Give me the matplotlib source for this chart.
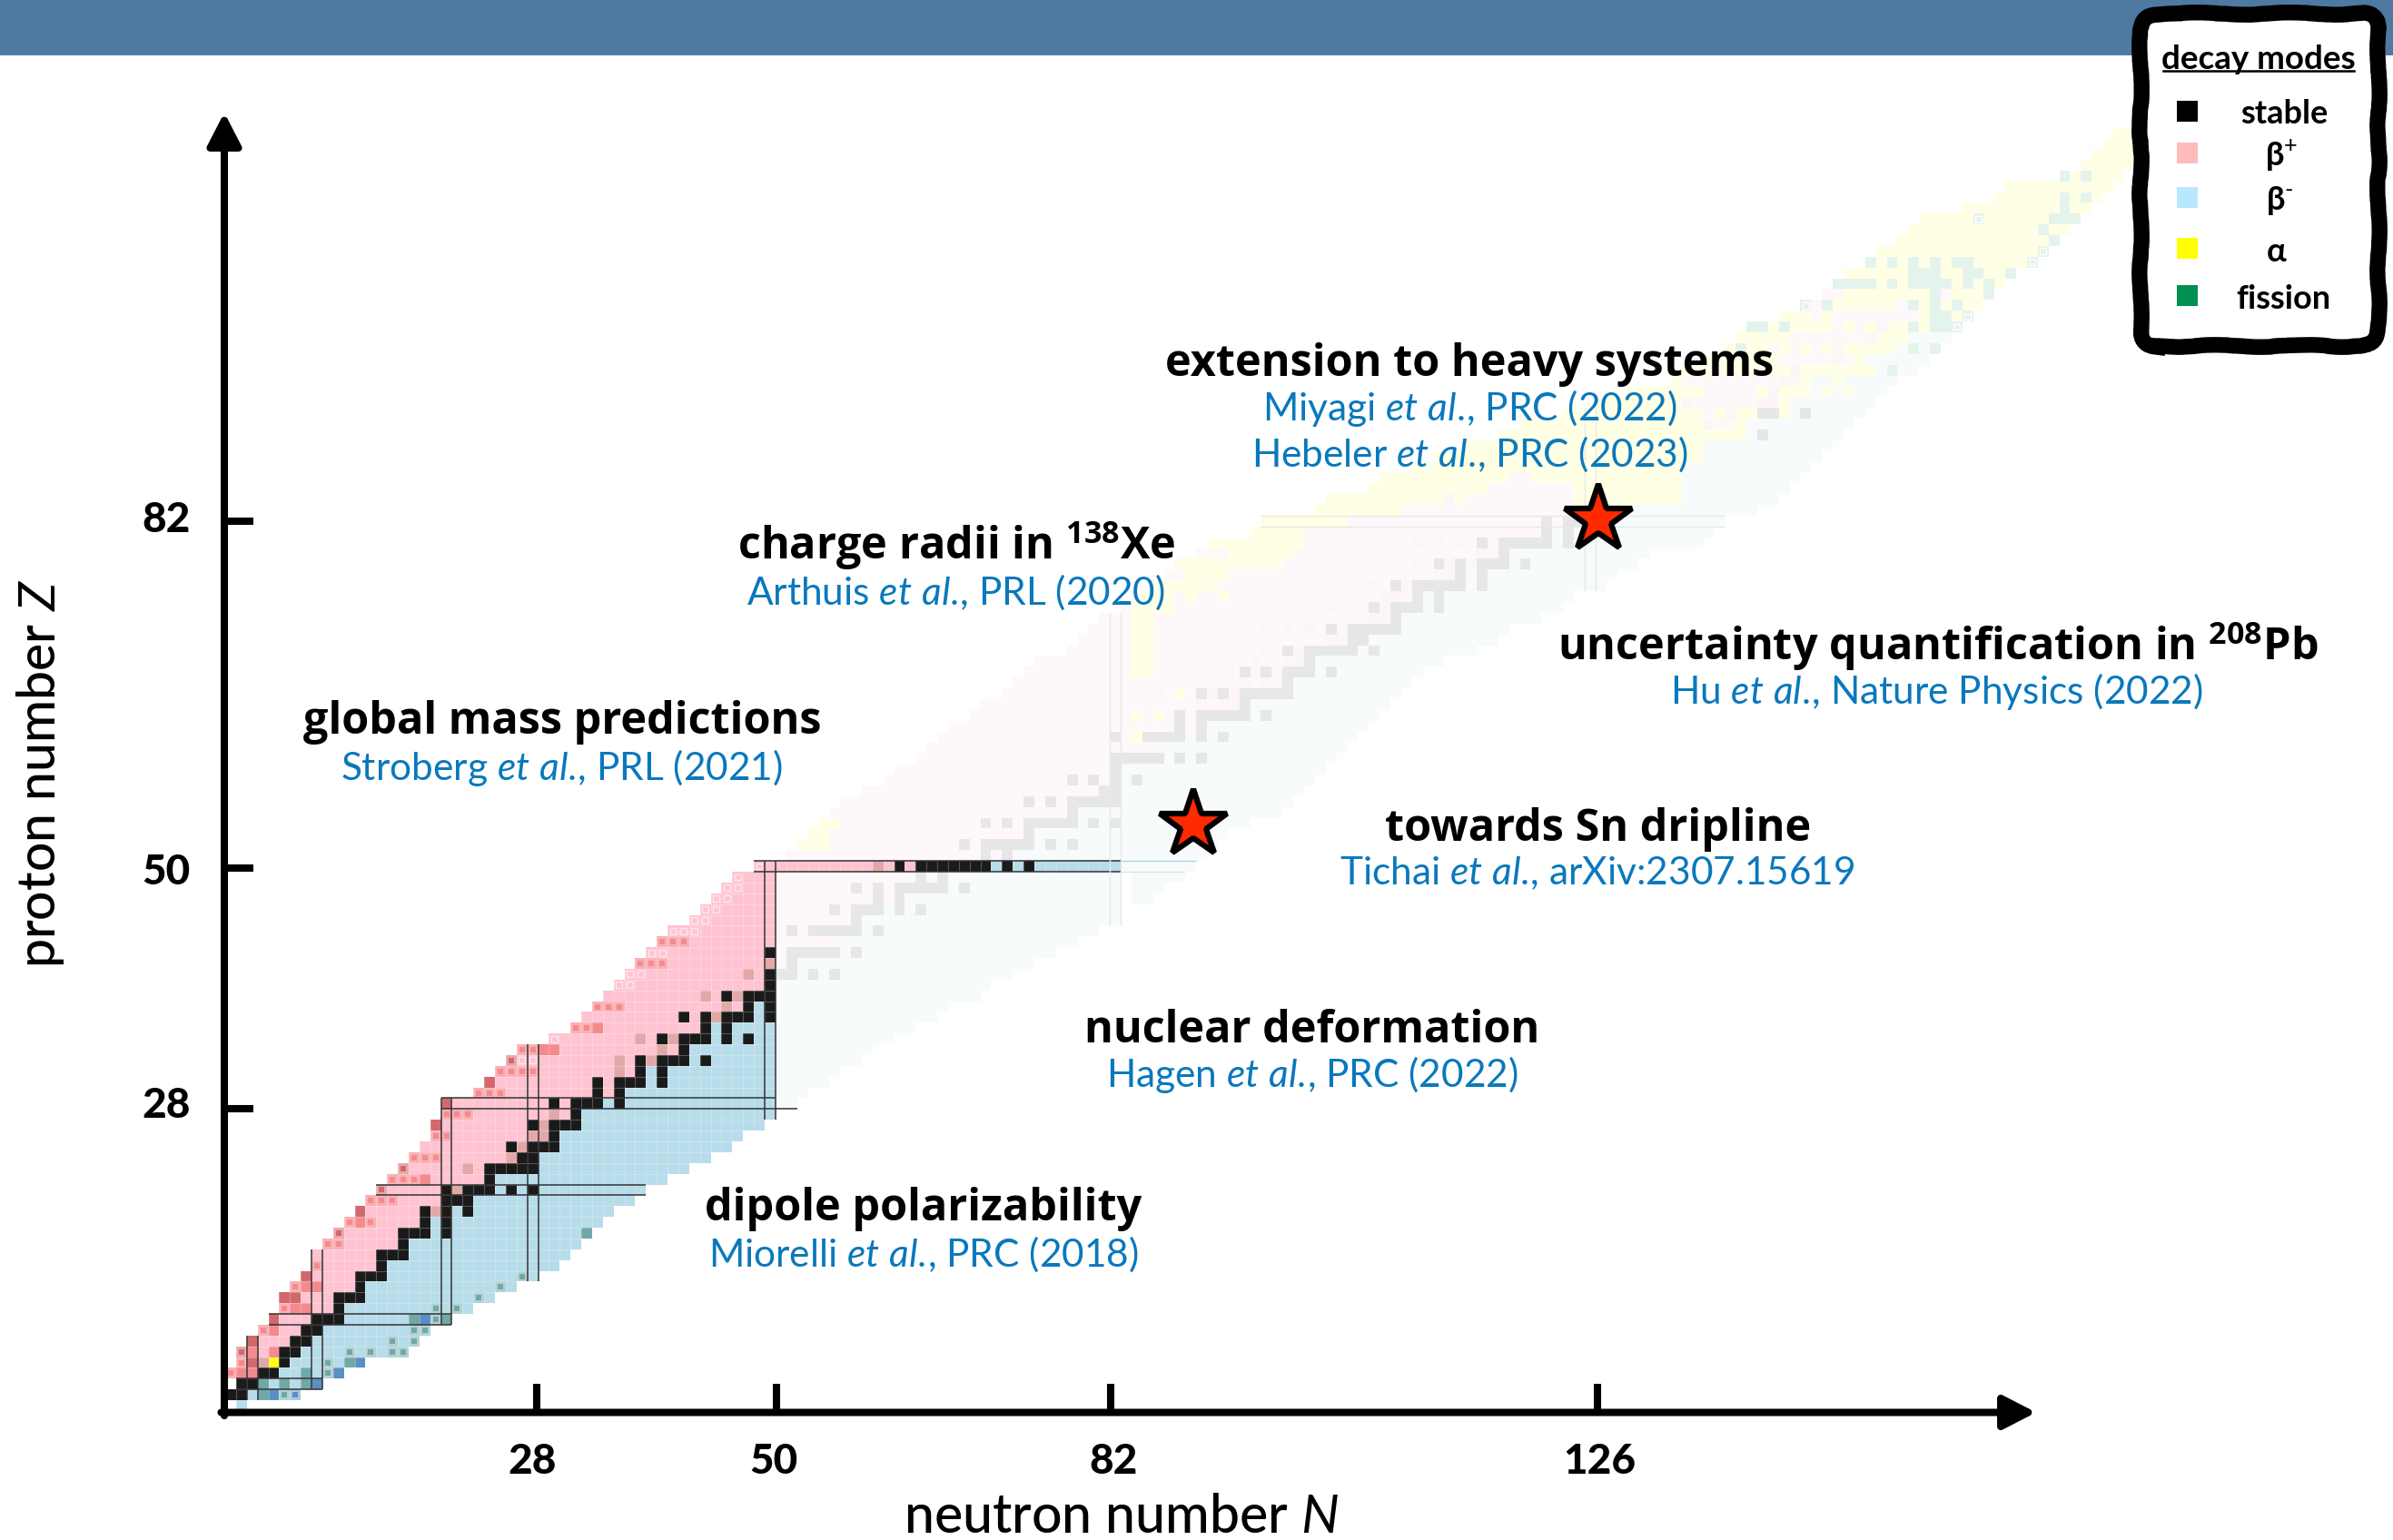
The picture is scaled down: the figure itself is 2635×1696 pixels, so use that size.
import numpy as np
import matplotlib
matplotlib.use('Agg')
import matplotlib.pyplot as plt
from matplotlib.colors import ListedColormap
from matplotlib.patches import FancyBboxPatch, Rectangle

plt.rcParams['font.family'] = ['Lato', 'Noto Sans', 'DejaVu Sans']
plt.rcParams['mathtext.fontset'] = 'custom'
plt.rcParams['mathtext.rm'] = 'Lato'
plt.rcParams['mathtext.it'] = 'Lato:italic'
plt.rcParams['mathtext.bf'] = 'Open Sans:bold'

# first and last neutron number of every row, index = proton number
n_min = [1, 0, 1, 0, 1, 1, 2, 3, 4, 5, 5, 6, 7, 8, 8, 9, 10, 11, 12, 13,
         14, 15, 16, 17, 18, 19, 19, 20, 20, 23, 24, 25, 26, 27, 30, 32, 33, 34, 35, 36,
         37, 38, 39, 40, 41, 43, 44, 45, 46, 47, 49, 52, 53, 54, 55, 56, 57, 59, 61, 62,
         64, 65, 66, 67, 69, 70, 72, 73, 74, 75, 78, 79, 80, 81, 83, 84, 86, 87, 88, 90,
         91, 95, 96, 101, 102, 106, 107, 110, 112, 115, 118, 120, 124, 127, 130, 134, 135, 137, 139, 140,
         141, 144, 146, 148, 149, 150, 152, 153, 155, 156, 157, 161, 164, 165, 170, 172, 173, 174, 175]
n_max = [1, 6, 8, 10, 12, 16, 17, 18, 20, 22, 24, 26, 28, 30, 31, 32, 33, 34, 35, 37,
         38, 40, 42, 44, 46, 47, 49, 50, 52, 53, 55, 56, 58, 59, 61, 63, 65, 66, 69, 70,
         72, 74, 76, 78, 80, 82, 82, 85, 86, 88, 89, 90, 91, 92, 94, 97, 98, 99, 100, 101,
         102, 103, 104, 105, 106, 107, 108, 109, 110, 112, 115, 117, 118, 121, 123, 124, 127, 128, 130, 131,
         136, 137, 138, 141, 143, 144, 145, 146, 147, 148, 149, 150, 151, 152, 153, 154, 156, 157, 158, 159,
         160, 161, 162, 163, 164, 165, 167, 168, 169, 170, 171, 172, 173, 174, 175, 176, 177, 178, 179]
# first beta- neutron number of every row (up to Z=99)
blue_start = [1, 2, 3, 5, 6, 7, 8, 9, 11, 11, 13, 13, 15, 15, 17, 17, 19, 19, 19, 23,
              25, 25, 29, 29, 31, 31, 33, 33, 35, 37, 39, 39, 43, 43, 45, 45, 49, 49, 51, 51,
              53, 53, 57, 57, 59, 59, 61, 63, 67, 67, 71, 73, 75, 75, 79, 79, 83, 83, 83, 83,
              87, 87, 89, 91, 95, 95, 99, 99, 101, 101, 105, 106, 109, 109, 111, 111, 115, 115, 119, 119,
              123, 123, 127, 128, 135, 135, 135, 135, 137, 137, 141, 141, 145, 145, 147, 147, 153, 152, 155, 156]

stable = {1: [0, 1], 2: [1, 2], 3: [3, 4], 4: [5], 5: [5, 6], 6: [6, 7], 7: [7, 8], 8: [8, 9, 10], 9: [10],
          10: [10, 11, 12], 11: [12], 12: [12, 13, 14], 13: [14], 14: [14, 15, 16], 15: [16],
          16: [16, 17, 18, 20], 17: [18, 20], 18: [18, 20, 22], 19: [20, 21, 22],
          20: [20, 22, 23, 24, 26, 28], 21: [24], 22: [24, 25, 26, 27, 28], 23: [27, 28],
          24: [26, 28, 29, 30], 25: [30], 26: [28, 30, 31, 32], 27: [32], 28: [30, 32, 33, 34, 36],
          29: [34, 36], 30: [34, 36, 37, 38, 40], 31: [38, 40], 32: [38, 40, 41, 42, 44], 33: [42],
          34: [40, 42, 43, 44, 46, 48], 35: [44, 46], 36: [42, 44, 46, 47, 48, 50], 37: [48, 50],
          38: [46, 48, 49, 50], 39: [50], 40: [50, 51, 52, 54, 56], 41: [52],
          42: [50, 52, 53, 54, 55, 56, 58], 44: [52, 54, 55, 56, 57, 58, 60], 45: [58],
          46: [56, 58, 59, 60, 62, 64], 47: [60, 62], 48: [58, 60, 62, 63, 64, 65, 66, 68], 49: [64, 66],
          50: [62, 64, 65, 66, 67, 68, 69, 70, 72, 74], 51: [70, 72], 52: [68, 70, 71, 72, 73, 74, 76, 78],
          53: [74], 54: [70, 72, 74, 75, 76, 77, 78, 80, 82], 55: [78], 56: [74, 76, 78, 79, 80, 81, 82],
          57: [81, 82], 58: [78, 80, 82, 84], 59: [82], 60: [82, 83, 84, 85, 86, 88, 90],
          62: [82, 85, 86, 87, 88, 90, 92], 63: [88, 90], 64: [88, 90, 91, 92, 93, 94, 96], 65: [94],
          66: [90, 92, 94, 95, 96, 97, 98], 67: [98], 68: [94, 96, 98, 99, 100, 102], 69: [100],
          70: [98, 100, 101, 102, 103, 104, 106], 71: [104, 105], 72: [102, 104, 105, 106, 107, 108],
          73: [108], 74: [106, 108, 109, 110, 112], 75: [110, 112], 76: [108, 110, 111, 112, 113, 114, 116],
          77: [114, 116], 78: [112, 114, 116, 117, 118, 120], 79: [118], 80: [116, 118, 119, 120, 121, 122, 124],
          81: [122, 124], 82: [122, 124, 125, 126], 83: [126], 90: [142], 92: [142, 143, 146]}

long_lived = {4: [3], 18: [19], 20: [21], 22: [22], 23: [26], 24: [27], 25: [28, 29], 26: [29], 27: [30],
              31: [36], 32: [36, 39], 33: [40], 34: [38, 41], 36: [45], 37: [46], 38: [44, 47], 40: [48],
              41: [50], 50: [60], 65: [90, 92, 93], 66: [86, 91, 93], 67: [94, 96, 97], 68: [90, 92, 95, 97],
              69: [95, 98, 99], 70: [94, 96, 99], 71: [102, 103], 72: [96, 98, 100, 103], 73: [106, 107],
              74: [102, 104, 107], 75: [107, 108], 76: [106, 109], 77: [112, 113], 78: [110, 113, 115],
              79: [116, 117], 80: [110, 112, 114, 117], 84: [113], 91: [137], 92: [139], 93: [135, 142, 143],
              94: [143], 95: [144], 96: [145], 97: [149], 98: [149], 99: [152], 100: [153]}

salmon = {3: [1, 2], 5: [2, 4], 7: [4], 9: [6, 7], 11: [7, 8], 17: [12], 21: [18], 33: [29, 30], 35: [34]}
salmon_box = {3: [0], 4: [1], 7: [3], 9: [5], 11: [6], 13: [8], 15: [9, 10], 17: [11, 13], 19: [13, 14, 15],
              21: [15, 16, 17], 23: [17, 18, 19], 25: [19, 20], 27: [20, 21, 22], 29: [23, 24, 25],
              31: [25, 26, 27, 28], 33: [27, 28], 35: [32, 33], 37: [34, 35, 36], 41: [38, 39, 40], 43: [40, 41, 42]}
red = {4: [2], 6: [2], 8: [4], 10: [5, 6], 12: [7], 18: [12], 26: [19], 28: [20], 30: [24]}
red_box = {5: [1], 16: [10], 20: [14], 22: [16], 32: [26]}
pale_box = {32: [27, 28], 34: [30], 39: [36, 37], 40: [37, 38], 42: [39, 40], 44: [41, 42, 43], 45: [43, 44],
            46: [44, 45], 47: [45, 46], 48: [46, 47], 49: [47], 50: [49]}
teal = {1: [3], 2: [3, 5, 7], 3: [7], 4: [11], 8: [17, 20], 16: [33]}
teal_box = {1: [5], 3: [9], 4: [9], 5: [11, 13, 15, 16], 6: [15, 17], 7: [17, 18], 8: [19], 9: [19, 21],
            10: [23], 11: [25], 12: [27]}
dark_blue = {1: [4], 2: [8], 3: [10], 4: [12], 8: [18]}
dark_blue_box = {1: [6]}

# alpha decay stretches, inclusive
alpha_spans = {4: [(4, 4)], 52: [(53, 55)], 53: [(54, 55)], 54: [(55, 56)], 62: [(84, 84)], 64: [(84, 84), (86, 86)],
               66: [(88, 88)], 68: [(84, 85)], 69: [(84, 85)], 70: [(84, 85)], 71: [(84, 85)], 72: [(84, 85)],
               73: [(84, 85)], 74: [(84, 87)], 75: [(85, 87), (89, 89), (92, 92)], 76: [(86, 91)], 77: [(89, 92)],
               78: [(88, 97)], 79: [(93, 98)], 80: [(91, 99)], 81: [(95, 99)], 82: [(96, 103)], 83: [(101, 108)],
               84: [(102, 112), (114, 114), (125, 134)], 85: [(106, 116), (125, 134)], 86: [(107, 118), (121, 134)],
               87: [(110, 134)], 88: [(112, 136)], 89: [(115, 136)], 90: [(118, 140)], 91: [(120, 136), (140, 140)],
               92: [(124, 136), (138, 138), (140, 141), (144, 144)], 93: [(127, 134), (144, 144)],
               94: [(130, 136), (142, 142), (144, 146), (148, 148), (150, 150)], 95: [(134, 134), (146, 146), (149, 149)],
               96: [(135, 144), (146, 152)], 97: [(137, 143), (151, 151)],
               98: [(139, 142), (144, 144), (146, 146), (148, 148), (150, 154)], 99: [(140, 144), (153, 155)],
               100: [(143, 143), (145, 148), (150, 150), (152, 152), (154, 155), (157, 157)],
               101: [(144, 146), (148, 148), (157, 157), (160, 160)]}
alpha_from_z = 102
pink_over = {102: [147, 155], 103: [148, 149, 159]}
fission = {98: [140, 156, 158], 96: [154], 100: [141, 142, 144, 156, 158, 159, 160], 101: [158, 159, 161],
           102: [146, 148, 156, 158, 160], 103: [158, 163],
           104: [149, 150, 151, 152, 154, 156, 157, 158, 159, 161, 163], 105: [156, 157, 158, 161, 162, 165],
           106: [152, 154, 156, 158, 160, 161, 167], 107: [168], 108: [169], 109: [168],
           110: [162, 169, 170, 171], 111: [170], 112: [170, 172], 114: [170, 172]}
fission_box = {100: [160], 101: [161], 102: [146], 106: [167], 107: [168], 110: [162]}
gaps = {47: [83], 48: [83], 49: [83]}

x_ticks = [28.9, 51.1, 82.1, 127.2]
x_tick_labels = ['28', '50', '82', '126']
y_ticks = [28.0, 50.3, 82.5]
y_tick_labels = ['28', '50', '82']

# magic number bands: number, first and last row/column
v_lines = [(2, 1, 7), (8, 2, 15), (20, 8, 29), (28, 12, 34), (50, 27, 51)]
h_lines = [(2, 1, 9), (8, 4, 21), (20, 14, 39), (50, 49, 83)]
v_lines_faint = [(82, 45, 74), (126, 76, 93)]
h_lines_faint = [(82, 96, 139)]

studies = [('extension to heavy systems', 401, 1618),
           ('uncertainty quantification in $^{\\mathbf{208}}$Pb', 712, 2134),
           ('charge radii in $^{\\mathbf{138}}$Xe', 601, 1053),
           ('global mass predictions', 795, 619),
           ('towards Sn dripline', 913, 1760),
           ('nuclear deformation', 1135, 1445),
           ('dipole polarizability', 1331, 1017)]
etal = '$\\mathit{et\\ al.}\\!\\mathrm{,}$'
refs = [('Miyagi ' + etal + ' PRC (2022)', 450, 1618),
        ('Hebeler ' + etal + ' PRC (2023)', 500, 1618),
        ('Hu ' + etal + ' Nature Physics (2022)', 762, 2132),
        ('Arthuis ' + etal + ' PRL (2020)', 652, 1052),
        ('Stroberg ' + etal + ' PRL (2021)', 845, 618),
        ('Tichai ' + etal + ' arXiv:2307.15619', 962, 1759),
        ('Hagen ' + etal + ' PRC (2022)', 1184, 1445),
        ('Miorelli ' + etal + ' PRC (2018)', 1381, 1017)]

legend_labels = ['stable', 'β$^{+}$', 'β$^{\\text{-}}$', 'α', 'fission']
legend_colors = ['#000000', '#ffbbbb', '#b8e8ff', '#ffff00', '#009050']

W, H = 2635, 1696
PITCH = 11.88
X0, Y0 = 248, 1554

fig = plt.figure(figsize=(W / 100, H / 100), dpi=100, facecolor='white')
ax = fig.add_axes([0, 0, 1, 1])
ax.set_xlim(-X0 / PITCH, (W - X0) / PITCH)
ax.set_ylim((Y0 - H) / PITCH, Y0 / PITCH)
ax.axis('off')


def place(cells, grid, code):
    for z, ns in cells.items():
        for n in ns:
            grid[z, n] = code


# build cell categories
NX, NY = 181, 119
grid = np.zeros((NY, NX), dtype=int)
for z in range(NY):
    top = blue_start[z] if z < len(blue_start) else n_max[z] + 1
    for n in range(n_min[z], n_max[z] + 1):
        grid[z, n] = 2 if n >= top else 1
    if z >= alpha_from_z:
        grid[z, n_min[z]:n_max[z] + 1] = 5
for z, spans in alpha_spans.items():
    for a, b in spans:
        grid[z, a:b + 1] = 5
place(pink_over, grid, 1)
place(gaps, grid, 0)
place(stable, grid, 3)
place(long_lived, grid, 4)
place(fission, grid, 6)
place(salmon, grid, 7)
place(red, grid, 8)
place(teal, grid, 9)
place(dark_blue, grid, 10)
place(salmon_box, grid, 11)
place(red_box, grid, 12)
place(teal_box, grid, 13)
place(dark_blue_box, grid, 14)

cmap = ListedColormap(['#ffffff', '#ffc3d1', '#b7dcea', '#1a1a1a', '#e2a8a8', '#ffff10', '#009050',
                       '#f48a8e', '#d2686c', '#70a8a8', '#5a8fc4',
                       '#f9b0b4', '#e8a8ac', '#b2d2d2', '#a8c8e2'])

bright = np.zeros_like(grid, dtype=bool)
bright[:51, :51] = True
bright[50, :83] = True
xe = np.arange(NX + 1)
ye = np.arange(NY + 1)
faded_c = np.ma.masked_where(bright | (grid == 0), grid)
bright_c = np.ma.masked_where(~bright | (grid == 0), grid)
ax.pcolormesh(xe, ye, faded_c, cmap=cmap, vmin=-0.5, vmax=14.5, alpha=0.1, edgecolors='none', zorder=1)
ax.pcolormesh(xe, ye, bright_c, cmap=cmap, vmin=-0.5, vmax=14.5, edgecolors='none', zorder=2)

# pale grid lines on the bright part
for z in range(0, 51):
    ok = np.where(bright_c[z].mask == False)[0]
    if len(ok):
        ax.hlines(z, ok.min(), ok.max() + 1, color='white', alpha=0.25, lw=0.8, zorder=3)
for n in range(0, 83):
    ok = np.where(bright_c[:, n].mask == False)[0]
    if len(ok):
        ax.vlines(n, ok.min(), ok.max() + 1, color='white', alpha=0.25, lw=0.8, zorder=3)


def inner_squares(cells, color, size=20, alpha=1.0, face=True):
    xs = [n + 0.5 for z, ns in cells.items() for n in ns]
    ys = [z + 0.5 for z, ns in cells.items() for n in ns]
    if face:
        ax.scatter(xs, ys, s=size, marker='s', color=color, lw=0, alpha=alpha, zorder=4)
    else:
        ax.scatter(xs, ys, s=size, marker='s', facecolor='none', edgecolor=color, lw=1.0, alpha=alpha, zorder=4)


inner_squares(salmon_box, '#f48a8e')
inner_squares(red_box, '#d2686c')
inner_squares(teal_box, '#70a8a8')
inner_squares(dark_blue_box, '#5a8fc4')
inner_squares(pale_box, '#ffe8ee', size=24, face=False)
inner_squares(fission_box, '#ffffff', size=24, face=False)

# magic number bands
for num, a, b in v_lines:
    ax.vlines([num, num + 1], a, b, color='#333333', lw=1.3, alpha=0.85, zorder=5)
for num, a, b in h_lines:
    ax.hlines([num, num + 1], a, b, color='#333333', lw=1.3, alpha=0.85, zorder=5)
ax.hlines(29, 20, 51, color='#333333', lw=1.3, alpha=0.85, zorder=5)
ax.hlines(28, 20, 53, color='#333333', lw=1.3, alpha=0.85, zorder=5)
ax.hlines(51, 83, 90, color='#a8d4e4', lw=0.9, zorder=5)
ax.hlines(50, 83, 89, color='#e2e2e2', lw=0.9, zorder=5)
for num, a, b in v_lines_faint:
    ax.vlines([num, num + 1], a, b, color='#e8e8e8', lw=1.0, zorder=5)
for num, a, b in h_lines_faint:
    ax.hlines([num, num + 1], a, b, color='#e8e8e8', lw=1.0, zorder=5)

# stars
ax.plot([127.3, 89.7], [82.7, 54.4], ls='none', marker='*', ms=56, mfc='#ff2a00', mec='black', mew=4.5, zorder=8)

# axes with arrows
ax_x = (247 - X0) / PITCH
ax_y = (Y0 - 1555.5) / PITCH
ax.annotate('', xy=(ax_x, (Y0 - 124) / PITCH), xytext=(ax_x, ax_y - 0.3),
            arrowprops=dict(arrowstyle='-|>,head_length=1.55,head_width=0.8', lw=5.8, color='black',
                            shrinkA=0, shrinkB=0, mutation_scale=14), zorder=9)
ax.annotate('', xy=((2242 - X0) / PITCH, ax_y), xytext=(ax_x - 0.3, ax_y),
            arrowprops=dict(arrowstyle='-|>,head_length=1.55,head_width=0.8', lw=5.8, color='black',
                            shrinkA=0, shrinkB=0, mutation_scale=14), zorder=9)
tick_len = 32 / PITCH
ax.vlines(x_ticks, ax_y, ax_y + tick_len, color='black', lw=5.8, zorder=9)
ax.hlines(y_ticks, ax_x, ax_x + tick_len, color='black', lw=5.8, zorder=9)


def put(px, py, s, **kw):
    kw.setdefault('ha', 'center')
    kw.setdefault('va', 'center')
    return fig.text(px / W, 1 - py / H, s, zorder=20, **kw)


for x, lab, px in zip(x_ticks, x_tick_labels, [586, 852, 1226, 1761]):
    put(px, 1610, lab, fontsize=33, fontweight='black')
for y, lab, py in zip(y_ticks, y_tick_labels, [1218, 961, 573]):
    put(183, py, lab, fontsize=33, fontweight='black')
put(1235, 1671, 'neutron number $\\mathit{N}$', fontsize=42.5, fontweight='medium')
put(45, 852, 'proton number $\\mathit{Z}$', fontsize=41, fontweight='medium', rotation=90)

for s, py, px in studies:
    put(px, py, s, fontsize=35, fontweight='bold', color='black', family=['Open Sans', 'DejaVu Sans'])
for s, py, px in refs:
    put(px, py, s, fontsize=30.5, color='#0a78bc')

# header band and legend
fig.patches.append(Rectangle((0, 1 - 61 / H), 1, 61 / H, transform=fig.transFigure, facecolor='#4e7aa2',
                             edgecolor='none', zorder=6))
box = FancyBboxPatch((2357 / W, 1 - 381 / H), 262 / W, 366 / H, boxstyle='round,pad=0,rounding_size=0.007',
                     transform=fig.transFigure, facecolor='white', edgecolor='black', lw=12.5, zorder=15,
                     mutation_aspect=W / H)
box.set_sketch_params(scale=1.2, length=170, randomness=8)
fig.patches.append(box)
put(2487, 65, 'decay modes', fontsize=26.5, fontweight='bold')
fig.lines.append(plt.Line2D([2382 / W, 2592 / W], [1 - 78 / H, 1 - 78 / H], transform=fig.transFigure,
                            color='black', lw=1.8, zorder=20))
for py, col, lab, lab_x in zip([122, 168, 217, 273, 325], legend_colors, legend_labels,
                               [2515, 2512, 2510, 2507, 2514]):
    fig.patches.append(Rectangle((2397 / W, 1 - (py + 11.5) / H), 23 / W, 23 / H, transform=fig.transFigure,
                                 facecolor=col, edgecolor='none', zorder=20))
    put(lab_x, py + 4, lab, fontsize=26, fontweight='bold')

fig.savefig('out.png', dpi=100)
